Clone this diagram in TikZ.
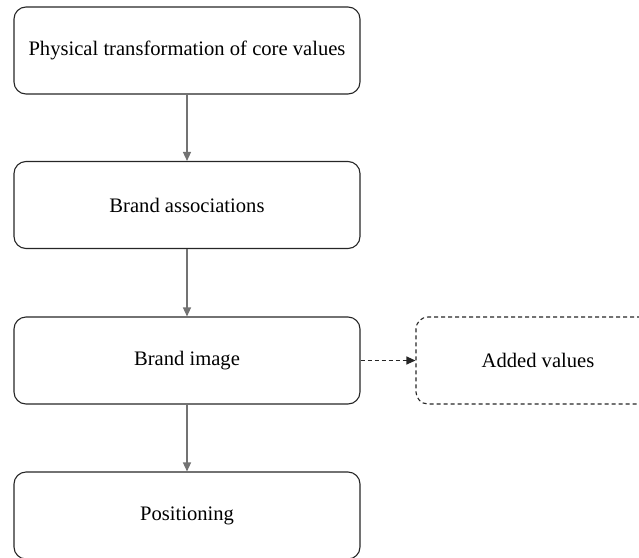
\documentclass[tikz,border=0pt]{standalone}
\usepackage{fontspec}
\setmainfont{Liberation Serif}
\usetikzlibrary{arrows.meta}
\begin{document}
\begin{tikzpicture}[x=1pt,y=-1pt,
  txt/.style={font=\fontsize{20.6}{24}\selectfont, text=black},
  box/.style={txt, draw=black!85, line width=1.1pt, rounded corners=12pt, minimum width=346pt, minimum height=87pt, inner sep=0pt},
  dbox/.style={box, dashed, dash pattern=on 4pt off 3pt, minimum width=300pt},
  flow/.style={draw=black!55, line width=1.3pt, -{Triangle[length=9pt,width=8pt]}},
  dflow/.style={draw=black!85, line width=1.1pt, dash pattern=on 4pt off 3pt, -{Triangle[length=9pt,width=8pt]}}
]
\useasboundingbox (0,0) rectangle (639,557);
\node[box] (a) at (187,50.5) {Physical transformation of core values};
\node[box] (b) at (187,205) {Brand associations};
\node[box] (c) at (187,360.5) {Brand image};
\node[box] (d) at (187,515.5) {Positioning};
\node[dbox] (e) at (566,360.5) {};
\node[txt] (et) at (538,360.5) {Added values};
\draw[flow] (a) -- (b);
\draw[flow] (b) -- (c);
\draw[flow] (c) -- (d);
\draw[dflow] (c) -- (e);
\end{tikzpicture}
\end{document}
